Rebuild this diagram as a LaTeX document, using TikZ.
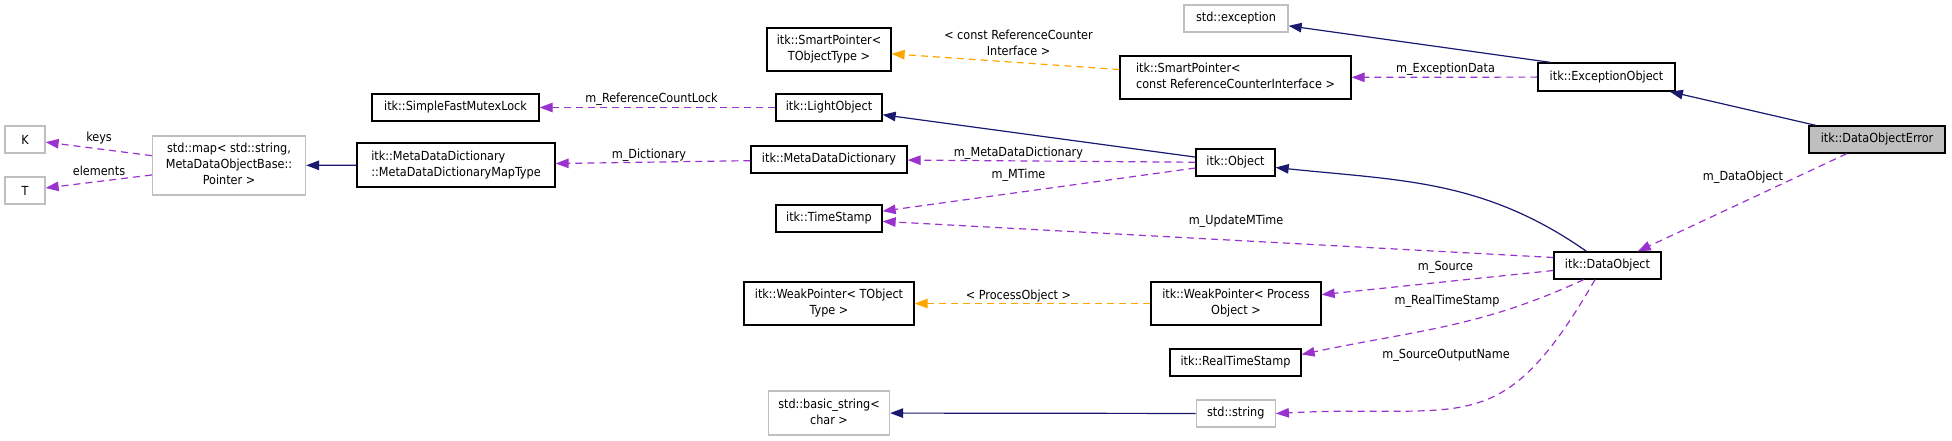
\documentclass[tikz,border=0pt]{standalone}
\usepackage{fontspec}
\setmainfont{DejaVu Sans Condensed}
\usepackage{xcolor}
\usetikzlibrary{arrows.meta,positioning,calc}

\definecolor{inhblue}{HTML}{191970}
\definecolor{usepurple}{HTML}{9A32CD}
\definecolor{tmplorange}{HTML}{FFA500}
\definecolor{extgray}{HTML}{BFBFBF}

\begin{document}
\begin{tikzpicture}[x=1pt,y=-1pt,
    font=\fontsize{12.5}{16}\selectfont,
    cls/.style={rectangle,draw=black,line width=1.3pt,inner sep=0pt,minimum height=27pt},
    ext/.style={cls,draw=extgray},
    inh/.style={draw=inhblue,line width=1.2pt,-{Triangle[length=13pt,width=9.5pt]}},
    uses/.style={draw=usepurple,line width=1.2pt,dash pattern=on 7pt off 5pt,-{Triangle[length=13pt,width=9.5pt]}},
    tmpl/.style={uses,draw=tmplorange},
    lbl/.style={inner sep=0pt}]
    \useasboundingbox (0,0) rectangle (1952,440);

    % Map key / element types
    \node[ext,minimum width=40pt] (keytype) at (25,139.5) {K};
    \node[ext,minimum width=40pt] (elemtype) at (25,190.5) {T};
    \node[ext,minimum width=153pt,minimum height=59pt] (stdmap) at (229,165.5) {
        \begin{tabular}{@{}c@{}}
        std::map< std::string, \\
        MetaDataObjectBase:: \\
        Pointer >
        \end{tabular}
    };

    % Dictionary map type and lock
    \node[cls,minimum width=198pt,minimum height=44pt] (maptype) at (456,165) {
        \begin{tabular}{@{}l@{}}
        itk::MetaDataDictionary \\
        ::MetaDataDictionaryMapType
        \end{tabular}
    };
    \node[cls,minimum width=167pt] (mutexlock) at (455.5,107.5) {itk::SimpleFastMutexLock};

    % Middle column
    \node[cls,minimum width=124pt,minimum height=43pt] (smartptrT) at (829,49.5) {
        \begin{tabular}{@{}c@{}}
        itk::SmartPointer< \\
        TObjectType >
        \end{tabular}
    };
    \node[cls,minimum width=106pt] (lightobj) at (829,107.5) {itk::LightObject};
    \node[cls,minimum width=156pt] (metadict) at (829,159.5) {itk::MetaDataDictionary};
    \node[cls,minimum width=106pt] (timestamp) at (829,218.5) {itk::TimeStamp};
    \node[cls,minimum width=170pt,minimum height=43pt] (weakptrT) at (829,303.5) {
        \begin{tabular}{@{}c@{}}
        itk::WeakPointer< TObject \\
        Type >
        \end{tabular}
    };
    \node[ext,minimum width=121pt,minimum height=44pt] (basicstr) at (829,413) {
        \begin{tabular}{@{}c@{}}
        std::basic\_string< \\
        char >
        \end{tabular}
    };

    % Object column
    \node[ext,minimum width=104pt] (stdexc) at (1236,18.5) {std::exception};
    \node[cls,minimum width=231pt,minimum height=43pt] (smartptrRCI) at (1235.5,77.5) {
        \begin{tabular}{@{}l@{}}
        itk::SmartPointer< \\
        const ReferenceCounterInterface >
        \end{tabular}
    };
    \node[cls,minimum width=79pt] (object) at (1235.5,162.5) {itk::Object};
    \node[cls,minimum width=170pt,minimum height=43pt] (weakptrPO) at (1236,303.5) {
        \begin{tabular}{@{}c@{}}
        itk::WeakPointer< Process \\
        Object >
        \end{tabular}
    };
    \node[cls,minimum width=131pt] (realts) at (1235.5,362.5) {itk::RealTimeStamp};
    \node[ext,minimum width=79pt] (stdstring) at (1235.75,413.5) {std::string};

    % Right side
    \node[cls,minimum width=137pt,minimum height=28pt] (excobj) at (1606.5,77) {itk::ExceptionObject};
    \node[cls,minimum width=107pt] (dataobj) at (1607.5,265.5) {itk::DataObject};
    \node[cls,fill=extgray,minimum width=136pt] (doerror) at (1877,139.5) {itk::DataObjectError};

    % Inheritance
    \draw[inh] (doerror) -- (excobj);
    \draw[inh] ([xshift=13pt]excobj.north west) -- (stdexc);
    \draw[inh] ([xshift=-21pt]dataobj.north) to[out=145,in=-6] ([yshift=-5pt]object.east);
    \draw[inh] (object) -- (lightobj);
    \draw[inh] (maptype) -- (stdmap);
    \draw[inh] (stdstring) -- (basicstr);

    % Usage
    \draw[uses] (excobj) -- (smartptrRCI);
    \draw[uses] (doerror) -- (dataobj);
    \draw[uses] (object) -- (metadict);
    \draw[uses] (object) -- (timestamp);
    \draw[uses] ([yshift=8pt]dataobj.west) -- (timestamp);
    \draw[uses] ([yshift=-5pt]dataobj.west) -- (weakptrPO);
    \draw[uses] ([xshift=-24pt]dataobj.south) to[out=205,in=12] ([yshift=8pt]realts.east);
    \draw[uses] ([xshift=-12.5pt]dataobj.south) to[out=240,in=3,looseness=1.4] (stdstring.east);
    \draw[uses] (lightobj) -- (mutexlock);
    \draw[uses] (metadict) -- (maptype);
    \draw[uses] (stdmap) -- (keytype);
    \draw[uses] (stdmap) -- (elemtype);

    % Templates
    \draw[tmpl] (smartptrRCI) -- (smartptrT);
    \draw[tmpl] (weakptrPO) -- (weakptrT);

    % Edge labels
    \node[lbl] (l-keys) at (99,138) {keys};
    \node[lbl] (l-elems) at (99,171) {elements};
    \node[lbl] (l-mutex) at (651.5,99) {m\_ReferenceCountLock};
    \node[lbl] (l-dict) at (649,155) {m\_Dictionary};
    \node[lbl,align=center] (l-rci) at (1018.5,43) {< const ReferenceCounter\\Interface >};
    \node[lbl] (l-mdd) at (1018.5,153) {m\_MetaDataDictionary};
    \node[lbl] (l-mtime) at (1018.5,175) {m\_MTime};
    \node[lbl] (l-excdata) at (1445.5,69) {m\_ExceptionData};
    \node[lbl] (l-dataobj) at (1743,177) {m\_DataObject};
    \node[lbl] (l-umtime) at (1236,221) {m\_UpdateMTime};
    \node[lbl] (l-po) at (1018.5,296) {< ProcessObject >};
    \node[lbl] (l-source) at (1445.5,267) {m\_Source};
    \node[lbl] (l-rts) at (1447,301) {m\_RealTimeStamp};
    \node[lbl] (l-son) at (1446,355) {m\_SourceOutputName};
\end{tikzpicture}
\end{document}
